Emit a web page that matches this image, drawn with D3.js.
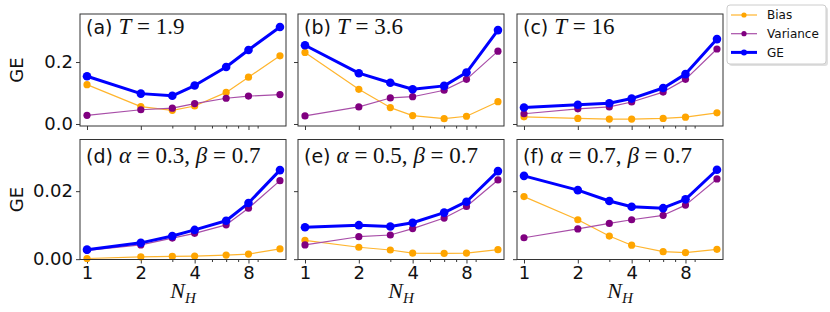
<!DOCTYPE html>
<html>
<head>
<meta charset="utf-8">
<script src="https://cdn.jsdelivr.net/npm/d3@7"></script>
<style>
  body { margin: 0; background: #fff; }
  svg { display: block; }
</style>
</head>
<body>
<svg id="chart"></svg>
<script>
// N_H values (log2 x axis)
var nh = [1, 2, 3, 4, 6, 8, 12];
var xTicks = [1, 2, 4, 8];
var xMinor = [3, 5, 6, 7, 9];
var yTicksTop = [0, 0.2];
var yTicksBottom = [0, 0.02];

var tags = ["(a)", "(b)", "(c)", "(d)", "(e)", "(f)"];
// alternating italic / upright pieces
var mathParts = [
  ["T", " = 1.9"],
  ["T", " = 3.6"],
  ["T", " = 16"],
  ["α", " = 0.3, ", "β", " = 0.7"],
  ["α", " = 0.5, ", "β", " = 0.7"],
  ["α", " = 0.7, ", "β", " = 0.7"]
];

var seriesNames = ["Bias", "Variance", "GE"];

var biasA = [0.127, 0.056, 0.044, 0.058, 0.102, 0.151, 0.220];
var varA  = [0.028, 0.046, 0.051, 0.066, 0.083, 0.090, 0.095];
var geA   = [0.154, 0.098, 0.091, 0.124, 0.184, 0.239, 0.313];

var biasB = [0.231, 0.112, 0.053, 0.027, 0.017, 0.025, 0.072];
var varB  = [0.026, 0.055, 0.084, 0.088, 0.109, 0.144, 0.235];
var geB   = [0.254, 0.164, 0.133, 0.112, 0.123, 0.166, 0.303];

var biasC = [0.023, 0.018, 0.016, 0.016, 0.018, 0.022, 0.036];
var varC  = [0.033, 0.049, 0.055, 0.071, 0.103, 0.144, 0.242];
var geC   = [0.053, 0.062, 0.067, 0.082, 0.116, 0.161, 0.274];

var biasD = [0.0002, 0.0007, 0.0008, 0.0009, 0.0012, 0.0015, 0.0030];
var varD  = [0.0026, 0.0042, 0.0062, 0.0076, 0.0101, 0.0150, 0.0231];
var geD   = [0.0028, 0.0048, 0.0068, 0.0086, 0.0113, 0.0165, 0.0262];

var biasE = [0.0055, 0.0035, 0.0027, 0.0018, 0.0017, 0.0018, 0.0028];
var varE  = [0.0042, 0.0066, 0.0071, 0.0090, 0.0121, 0.0155, 0.0233];
var geE   = [0.0094, 0.0100, 0.0096, 0.0107, 0.0137, 0.0169, 0.0259];

var biasF = [0.0184, 0.0116, 0.0068, 0.0041, 0.0022, 0.0019, 0.0029];
var varF  = [0.0063, 0.0089, 0.0105, 0.0116, 0.0129, 0.0159, 0.0236];
var geF   = [0.0245, 0.0203, 0.0171, 0.0154, 0.0150, 0.0176, 0.0263];

var panelData = [
  [biasA, varA, geA], [biasB, varB, geB], [biasC, varC, geC],
  [biasD, varD, geD], [biasE, varE, geE], [biasF, varF, geF]
];

var W = 830, H = 312;
var colLeft = [80, 298, 517];
var colW = 206;
var rowBox = [[14, 126], [139.5, 259.5]];

// line / marker styles per series
var lineColor = ["#ffb52e", "#a84ea8", "#0000ff"];
var markColor = ["#ffa500", "#800080", "#0000ff"];
var lineW = [1.2, 1.2, 3];
var markR = [3.6, 3.6, 4.3];

var sans = "DejaVu Sans, sans-serif";
var serif = "Liberation Serif, serif";

var svg = d3.select("#chart").attr("width", W).attr("height", H);

var x = d3.scaleLog().base(2)
  .domain([Math.pow(2, -0.13), Math.pow(2, 3.697)])
  .range([0, colW]);

function drawPanel(i) {
  var row = Math.floor(i / 3), col = i % 3;
  var top = rowBox[row][0], bottom = rowBox[row][1];
  var h = bottom - top;
  var y = d3.scaleLinear()
    .domain(row == 0 ? [-0.0065, 0.355] : [-0.0001, 0.0352])
    .range([h, 0]);

  var g = svg.append("g").attr("transform", "translate(" + colLeft[col] + "," + top + ")");

  // x ticks
  g.append("g").attr("transform", "translate(0," + h + ")")
    .call(d3.axisBottom(x).tickValues(xTicks).tickSize(4).tickPadding(3)
      .tickFormat(row == 1 ? d3.format("d") : ""));
  g.append("g").attr("transform", "translate(0," + h + ")")
    .call(d3.axisBottom(x).tickValues(xMinor).tickSize(2.5).tickFormat(""));

  // y ticks
  var yt = row == 0 ? yTicksTop : yTicksBottom;
  g.append("g")
    .call(d3.axisLeft(y).tickValues(yt).tickSize(4).tickPadding(3)
      .tickFormat(col == 0 ? d3.format(row == 0 ? ".1f" : ".2f") : ""));

  g.selectAll(".domain").remove();
  g.selectAll(".tick line").attr("stroke", "#222").attr("stroke-width", 0.9);
  g.selectAll(".tick text").attr("font-size", 18).attr("fill", "#111")
    .attr("font-family", sans);

  // series
  var line = d3.line().x(function (d) { return x(d[0]); }).y(function (d) { return y(d[1]); });
  panelData[i].forEach(function (vals, s) {
    var pts = nh.map(function (n, k) { return [n, vals[k]]; });
    g.append("path").datum(pts)
      .attr("d", line)
      .attr("fill", "none")
      .attr("stroke", lineColor[s])
      .attr("stroke-width", lineW[s])
      .attr("stroke-linejoin", "round");
    g.selectAll(".m" + s).data(pts).enter().append("circle")
      .attr("cx", function (d) { return x(d[0]); })
      .attr("cy", function (d) { return y(d[1]); })
      .attr("r", markR[s])
      .attr("fill", markColor[s]);
  });

  // frame
  g.append("rect").attr("width", colW).attr("height", h)
    .attr("fill", "none").attr("stroke", "#333").attr("stroke-width", 1);

  // panel title
  var t = g.append("text").attr("x", 6).attr("y", row == 0 ? 20 : 23.5)
    .attr("fill", "#111");
  t.append("tspan").attr("font-family", sans).attr("font-size", 19).text(tags[i] + " ");
  mathParts[i].forEach(function (p, k) {
    t.append("tspan")
      .attr("font-family", serif)
      .attr("font-style", k % 2 == 0 ? "italic" : "normal")
      .attr("font-size", 23)
      .text(p);
  });

  // axis labels
  if (col == 0) {
    svg.append("text")
      .attr("transform", "translate(23," + (top + h / 2) + ") rotate(-90)")
      .attr("text-anchor", "middle")
      .attr("font-family", sans)
      .attr("font-size", 18).attr("fill", "#111")
      .text("GE");
  }
  if (row == 1) {
    var lab = svg.append("text")
      .attr("x", colLeft[col] + colW / 2).attr("y", 298)
      .attr("text-anchor", "middle")
      .attr("font-family", serif)
      .attr("font-size", 22).attr("fill", "#111");
    lab.append("tspan").attr("font-style", "italic").text("N");
    lab.append("tspan").attr("font-style", "italic").attr("font-size", 15).attr("dy", 5).text("H");
  }
}

for (var i = 0; i < 6; i++) drawPanel(i);

// legend
var lg = svg.append("g").attr("transform", "translate(727,5)");
lg.append("rect").attr("x", 2).attr("y", 2).attr("width", 99).attr("height", 59)
  .attr("rx", 3).attr("fill", "#000").attr("opacity", 0.12);
lg.append("rect").attr("width", 99).attr("height", 59).attr("rx", 3)
  .attr("fill", "#fff").attr("stroke", "#ccc").attr("stroke-width", 1);
seriesNames.forEach(function (name, s) {
  var cy = 10 + s * 18.7;
  lg.append("line").attr("x1", 4).attr("x2", 30).attr("y1", cy).attr("y2", cy)
    .attr("stroke", lineColor[s]).attr("stroke-width", lineW[s]);
  lg.append("circle").attr("cx", 17).attr("cy", cy).attr("r", s == 2 ? 3 : 2.6)
    .attr("fill", markColor[s]);
  lg.append("text").attr("x", 40).attr("y", cy).attr("dy", "0.35em")
    .attr("font-family", sans)
    .attr("font-size", 12).attr("fill", "#111").text(name);
});
</script>
</body>
</html>
